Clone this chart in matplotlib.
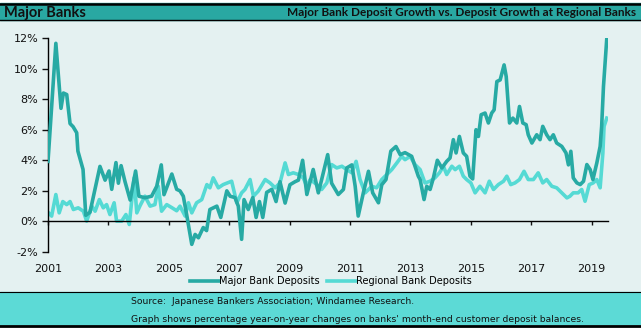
import matplotlib
matplotlib.use("Agg")
import matplotlib.pyplot as plt
from matplotlib.patches import Rectangle
from matplotlib.lines import Line2D

major_dates = [2001.00, 2001.26, 2001.43, 2001.51, 2001.62, 2001.73, 2001.83, 2001.95, 2001.99, 2002.16,
               2002.25, 2002.39, 2002.72, 2002.89, 2003.02, 2003.11, 2003.25, 2003.33, 2003.42, 2003.55,
               2003.72, 2003.90, 2004.01, 2004.21, 2004.43, 2004.60, 2004.75, 2004.84, 2005.10, 2005.26,
               2005.37, 2005.48, 2005.59, 2005.76, 2005.87, 2005.98, 2006.14, 2006.25, 2006.36, 2006.59,
               2006.72, 2006.92, 2007.03, 2007.19, 2007.30, 2007.41, 2007.49, 2007.63, 2007.78, 2007.89,
               2008.00, 2008.11, 2008.24, 2008.41, 2008.55, 2008.68, 2008.85, 2009.01, 2009.18, 2009.29,
               2009.43, 2009.57, 2009.78, 2009.95, 2010.06, 2010.26, 2010.39, 2010.61, 2010.78, 2010.89,
               2011.06, 2011.17, 2011.27, 2011.44, 2011.61, 2011.75, 2011.94, 2012.05, 2012.19, 2012.35,
               2012.52, 2012.66, 2012.82, 2013.04, 2013.15, 2013.26, 2013.32, 2013.45, 2013.54, 2013.65,
               2013.76, 2013.89, 2014.04, 2014.20, 2014.31, 2014.42, 2014.51, 2014.62, 2014.75, 2014.86,
               2014.97, 2015.06, 2015.17, 2015.25, 2015.34, 2015.47, 2015.58, 2015.69, 2015.77, 2015.86,
               2015.97, 2016.10, 2016.17, 2016.28, 2016.39, 2016.52, 2016.61, 2016.72, 2016.83, 2016.90,
               2017.02, 2017.18, 2017.29, 2017.38, 2017.51, 2017.62, 2017.73, 2017.84, 2018.01, 2018.15,
               2018.23, 2018.31, 2018.39, 2018.51, 2018.62, 2018.73, 2018.84, 2018.95, 2019.04, 2019.17,
               2019.28, 2019.33, 2019.39, 2019.50]
major_values = [3.93, 11.65, 7.4, 8.4, 8.3, 6.4, 6.2, 5.8, 4.6, 3.4,
                0.4, 0.6, 3.6, 2.7, 3.3, 2.1, 3.85, 2.5, 3.65, 2.6,
                1.4, 3.3, 1.65, 1.55, 1.65, 2.3, 3.7, 1.75, 3.1, 2.1,
                2.0, 1.65, 0.45, -1.5, -0.85, -1.07, -0.4, -0.6, 0.78, 1.0,
                0.26, 2.0, 1.65, 1.56, 1.0, -1.17, 1.43, 0.78, 1.56, 0.26,
                1.3, 0.26, 1.9, 2.1, 1.3, 2.6, 1.2, 2.4, 2.6, 2.7,
                4.0, 1.76, 3.4, 1.87, 2.74, 4.37, 2.5, 1.76, 2.09, 3.5,
                3.7, 2.3, 0.35, 1.87, 3.28, 1.87, 1.22, 2.4, 2.74, 4.6,
                4.9, 4.37, 4.5, 4.26, 3.6, 2.96, 2.74, 1.43, 2.3, 2.09,
                2.85, 4.0, 3.5, 3.93, 4.15, 5.35, 4.48, 5.56, 4.48, 4.26,
                2.96, 2.78, 6.0, 5.56, 6.98, 7.09, 6.44, 7.09, 7.3, 9.15,
                9.26, 10.24, 9.48, 6.44, 6.76, 6.44, 7.52, 6.44, 6.33, 5.67,
                5.13, 5.67, 5.35, 6.22, 5.67, 5.35, 5.67, 5.13, 4.91, 4.48,
                3.7, 4.59, 2.85, 2.52, 2.41, 2.63, 3.72, 3.39, 2.74, 3.83,
                4.91, 6.22, 8.83, 11.98]

regional_dates = [2001.00, 2001.12, 2001.26, 2001.37, 2001.49, 2001.62, 2001.73, 2001.84, 2002.00, 2002.17,
                  2002.28, 2002.45, 2002.56, 2002.70, 2002.83, 2002.94, 2003.05, 2003.19, 2003.27, 2003.44,
                  2003.58, 2003.69, 2003.85, 2003.94, 2004.05, 2004.21, 2004.38, 2004.54, 2004.65, 2004.76,
                  2004.93, 2005.10, 2005.26, 2005.37, 2005.54, 2005.65, 2005.76, 2005.92, 2006.09, 2006.26,
                  2006.36, 2006.47, 2006.64, 2006.80, 2007.08, 2007.25, 2007.41, 2007.52, 2007.69, 2007.80,
                  2007.96, 2008.19, 2008.35, 2008.52, 2008.68, 2008.85, 2008.96, 2009.12, 2009.29, 2009.45,
                  2009.57, 2009.68, 2009.90, 2010.06, 2010.23, 2010.39, 2010.56, 2010.73, 2010.89, 2011.06,
                  2011.20, 2011.33, 2011.50, 2011.72, 2011.88, 2012.05, 2012.22, 2012.38, 2012.55, 2012.71,
                  2012.82, 2012.99, 2013.15, 2013.32, 2013.48, 2013.65, 2013.81, 2013.96, 2014.09, 2014.20,
                  2014.37, 2014.48, 2014.62, 2014.75, 2014.86, 2015.00, 2015.14, 2015.30, 2015.47, 2015.61,
                  2015.75, 2015.91, 2016.08, 2016.19, 2016.32, 2016.46, 2016.61, 2016.76, 2016.90, 2017.07,
                  2017.23, 2017.38, 2017.51, 2017.68, 2017.84, 2018.01, 2018.18, 2018.28, 2018.39, 2018.55,
                  2018.67, 2018.78, 2018.92, 2019.05, 2019.17, 2019.28, 2019.37, 2019.41, 2019.50]
regional_values = [0.6, 0.35, 1.76, 0.56, 1.3, 1.1, 1.3, 0.78, 0.89, 0.67,
                   0.02, 1.0, 0.67, 1.43, 0.89, 1.1, 0.45, 1.22, 0.02, 0.02,
                   0.45, -0.2, 2.85, 0.56, 1.04, 1.65, 1.0, 1.1, 2.3, 0.67,
                   1.1, 0.9, 0.7, 1.0, 0.35, 1.22, 0.56, 1.22, 1.43, 2.41,
                   2.2, 2.85, 2.2, 2.41, 2.63, 1.22, 1.87, 2.09, 2.74, 1.65,
                   1.98, 2.74, 2.52, 2.2, 2.52, 3.83, 3.07, 3.18, 3.07, 2.85,
                   2.3, 2.74, 2.41, 2.09, 2.52, 3.72, 3.5, 3.61, 3.39, 3.18,
                   3.93, 2.74, 1.87, 2.3, 2.2, 2.74, 3.07, 3.39, 3.83, 4.26,
                   4.04, 4.26, 3.72, 3.39, 2.52, 2.63, 2.85, 3.18, 3.61, 3.07,
                   3.61, 3.39, 3.61, 2.96, 2.74, 2.52, 1.87, 2.3, 1.87, 2.63,
                   2.09, 2.41, 2.63, 2.96, 2.41, 2.52, 2.74, 3.28, 2.74, 2.74,
                   3.18, 2.52, 2.74, 2.3, 2.2, 1.87, 1.54, 1.65, 1.87, 1.87,
                   2.09, 1.32, 2.41, 2.52, 2.74, 2.2, 4.48, 6.22, 6.76]

x_ticks = [2001, 2003, 2005, 2007, 2009, 2011, 2013, 2015, 2017, 2019]
y_ticks = [-2, 0, 2, 4, 6, 8, 10, 12]
y_labels = ["-2%", "0%", "2%", "4%", "6%", "8%", "10%", "12%"]

series_names = ["Major Bank Deposits", "Regional Bank Deposits"]
title_left = "Major Banks"
title_right = "Major Bank Deposit Growth vs. Deposit Growth at Regional Banks"
footer_lines = ["Source:  Japanese Bankers Association; Windamee Research.",
                "Graph shows percentage year-on-year changes on banks' month-end customer deposit balances."]

MAJOR_C = "#27aaa4"
REG_C = "#55dad4"
BG = "#e4f1f1"
BAR_C = "#29a8a2"
FOOT_C = "#5cdad6"

W, H = 641, 329
fig = plt.figure(figsize=(W / 100, H / 100), dpi=100, facecolor=BG)

def fy(py):
    return 1 - py / H

# top white strip, black lines, title bar
fig.patches.append(Rectangle((0, fy(3)), 1, 3 / H, transform=fig.transFigure, color="white", zorder=0))
fig.patches.append(Rectangle((0, fy(20)), 1, 17 / H, transform=fig.transFigure, color=BAR_C, zorder=0))
fig.add_artist(Line2D([0, 1], [fy(3.5), fy(3.5)], color="black", lw=1.8, transform=fig.transFigure))
fig.add_artist(Line2D([0, 1], [fy(20), fy(20)], color="black", lw=1.0, transform=fig.transFigure))
# footer
fig.patches.append(Rectangle((0, fy(326)), 1, 34 / H, transform=fig.transFigure, color=FOOT_C, zorder=0))
fig.patches.append(Rectangle((0, 0), 1, 3 / H, transform=fig.transFigure, color="white", zorder=0))
fig.add_artist(Line2D([0, 1], [fy(292), fy(292)], color="black", lw=0.8, transform=fig.transFigure))
fig.add_artist(Line2D([0, 1], [fy(326), fy(326)], color="black", lw=2.0, transform=fig.transFigure))

fig.text(4 / W, fy(12.5), title_left, fontsize=10.5, fontweight="bold", family="Lato",
         ha="left", va="center", color="#111111")
fig.text(636 / W, fy(12.5), title_right, fontsize=8.5, fontweight="bold", family="Lato",
         ha="right", va="center", color="#111111")
fig.text(131 / W, fy(302), footer_lines[0], fontsize=6.7, family="DejaVu Sans", ha="left", va="center", color="#111111")
fig.text(131 / W, fy(319), footer_lines[1], fontsize=6.7, family="DejaVu Sans", ha="left", va="center", color="#111111")

ax = fig.add_axes([48 / W, fy(252), 560 / W, 214 / H])
ax.set_facecolor("none")
ax.plot(major_dates, major_values, color=MAJOR_C, lw=2.6, label=series_names[0], zorder=3,
        solid_joinstyle="round")
ax.plot(regional_dates, regional_values, color=REG_C, lw=2.6, label=series_names[1], zorder=2,
        solid_joinstyle="round")
ax.set_xlim(2001, 2019.54)
ax.set_ylim(-2, 12)
for s in ["top", "right"]:
    ax.spines[s].set_visible(False)
ax.spines["bottom"].set_position(("data", 0))
ax.spines["left"].set_linewidth(1.0)
ax.spines["bottom"].set_linewidth(1.0)
ax.set_xticks(x_ticks)
ax.set_xticklabels([str(t) for t in x_ticks])
ax.set_yticks(y_ticks)
ax.set_yticklabels(y_labels)
ax.tick_params(axis="x", direction="out", length=3, width=1, pad=28, labelsize=8, colors="#111111")
ax.tick_params(axis="y", direction="out", length=4, width=1, pad=3, labelsize=8, colors="#111111")

leg = fig.legend(loc="center", bbox_to_anchor=(331 / W, fy(281)), ncol=2, frameon=False,
                 fontsize=7.0, handlelength=3.0, handletextpad=0.05, columnspacing=0.7,
                 borderaxespad=0)

fig.savefig("out.png", dpi=100, facecolor=BG)
